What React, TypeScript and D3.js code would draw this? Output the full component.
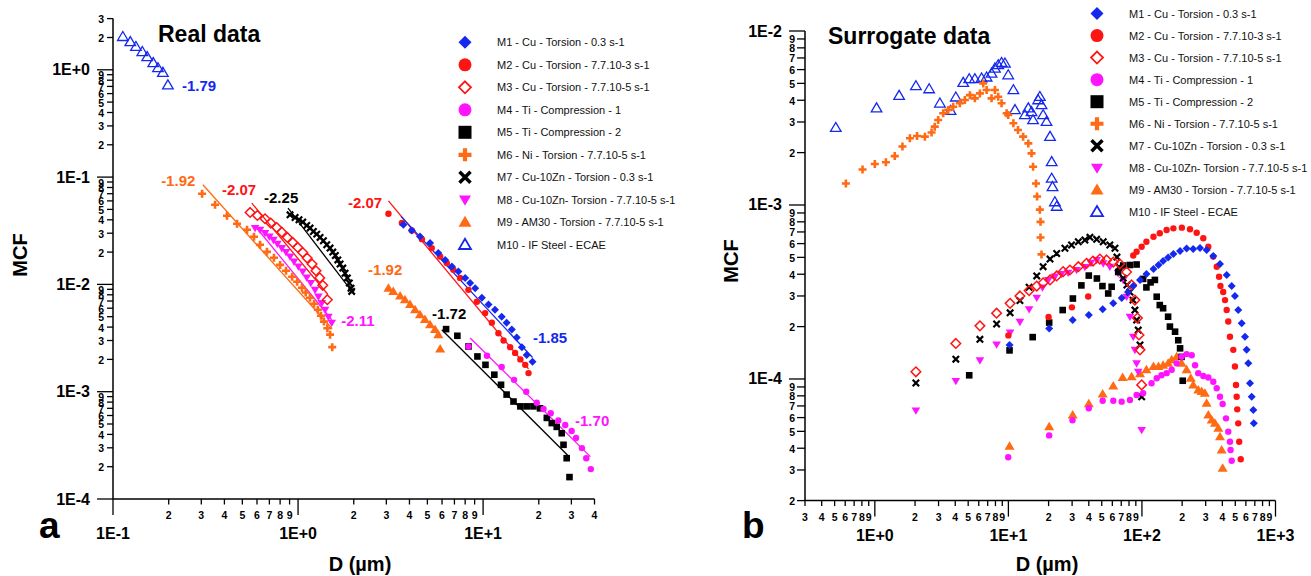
import React from 'react';
import * as d3 from 'd3';

type Pt = [number, number];

const BLUE = '#1428ee';
const RED = '#ff1414';
const MAGENTA = '#ff14ff';
const ORANGE = '#ff6a14';
const BLACK = '#000000';
const FONT = 'Arial, "Liberation Sans", Helvetica, sans-serif';

const seriesNames = [
  'M1 - Cu - Torsion - 0.3 s-1',
  'M2 - Cu - Torsion - 7.7.10-3 s-1',
  'M3 - Cu - Torsion - 7.7.10-5 s-1',
  'M4 - Ti - Compression - 1',
  'M5 - Ti - Compression - 2',
  'M6 - Ni - Torsion - 7.7.10-5 s-1',
  'M7 - Cu-10Zn - Torsion - 0.3 s-1',
  'M8 - Cu-10Zn- Torsion - 7.7.10-5 s-1',
  'M9 - AM30 - Torsion - 7.7.10-5 s-1',
  'M10 - IF Steel - ECAE',
];
const seriesColors = [BLUE, RED, RED, MAGENTA, BLACK, ORANGE, BLACK, MAGENTA, ORANGE, BLUE];
const seriesShapes = ['diamond', 'circle', 'diamondOpen', 'circle', 'square', 'plus', 'cross', 'triDown', 'triUp', 'triUpOpen'];

// ---------- Real data (panel a) ----------
const realM1: Pt[] = [[3.71,0.0359],[4.12,0.0318],[4.56,0.0279],[5.17,0.0243],[5.73,0.0196],[6.24,0.0169],[6.78,0.0147],[7.35,0.0132],[8.0,0.0115],[8.51,0.0103],[9.06,0.0092],[9.85,0.0075],[10.7,0.0065],[11.6,0.0058],[12.6,0.005],[13.4,0.0044],[14.3,0.0038],[15.2,0.0032],[16.2,0.0026],[17.2,0.0022],[18.5,0.0019]];
const realM2: Pt[] = [[3.08,0.0455],[3.64,0.0373],[4.12,0.0318],[4.67,0.0264],[5.28,0.0218],[5.86,0.0182],[6.37,0.0158],[6.91,0.0137],[7.51,0.0115],[8.33,0.0089],[9.25,0.0069],[10.26,0.0054],[11.15,0.0044],[12.1,0.0035],[12.9,0.003],[14.0,0.0026],[14.9,0.0023],[15.9,0.002],[16.9,0.00178],[17.6,0.00149]];
const realM3: Pt[] = [[0.551,0.0468],[0.603,0.0439],[0.663,0.0409],[0.712,0.0373],[0.767,0.0339],[0.817,0.0307],[0.875,0.0274],[0.936,0.0246],[0.996,0.0221],[1.06,0.0198],[1.12,0.0176],[1.19,0.0155],[1.25,0.0134],[1.31,0.0115],[1.36,0.0098],[1.44,0.0072]];
const realM4: Pt[] = [[8.34,0.00264],[10.5,0.00216],[12.6,0.0017],[14.7,0.00129],[17.1,0.001],[19.5,0.00079],[21.2,0.00069],[23.2,0.00063],[25.5,0.00054],[27.8,0.00049],[30.1,0.00043],[31.8,0.00037],[34.2,0.000298],[36.1,0.00024],[38.2,0.00019]];
const realM5: Pt[] = [[6.31,0.00383],[7.26,0.00332],[8.34,0.00264],[9.32,0.00213],[10.3,0.00178],[11.5,0.00144],[12.5,0.00116],[13.4,0.00094],[14.6,0.00081],[15.9,0.00073],[17.2,0.00073],[18.7,0.00073],[20.3,0.0007],[22.1,0.00057],[23.5,0.00051],[25.0,0.00047],[26.6,0.00041],[27.2,0.00032],[28.3,0.00024],[29.3,0.00016]];
const realM6: Pt[] = [[0.303,0.0699],[0.356,0.0552],[0.413,0.0436],[0.468,0.0367],[0.53,0.0323],[0.578,0.0278],[0.623,0.0234],[0.679,0.0201],[0.741,0.0177],[0.8,0.0152],[0.861,0.0134],[0.929,0.0118],[0.989,0.0106],[1.05,0.0093],[1.1,0.0084],[1.16,0.0075],[1.22,0.0066],[1.28,0.0058],[1.33,0.0051],[1.38,0.0045],[1.44,0.0039],[1.49,0.0034],[1.53,0.0026]];
const realM7: Pt[] = [[0.905,0.0445],[0.964,0.042],[1.012,0.04],[1.06,0.0381],[1.114,0.0354],[1.161,0.0335],[1.21,0.0311],[1.262,0.0294],[1.315,0.0274],[1.371,0.0255],[1.429,0.0234],[1.489,0.0218],[1.541,0.02],[1.591,0.0186],[1.64,0.0169],[1.687,0.0155],[1.745,0.0142],[1.795,0.0127],[1.847,0.0115],[1.893,0.0103],[1.933,0.0092],[1.95,0.0086]];
const realM8: Pt[] = [[0.586,0.0335],[0.623,0.0323],[0.663,0.0301],[0.7,0.0279],[0.736,0.026],[0.773,0.0239],[0.817,0.0218],[0.861,0.02],[0.905,0.0182],[0.951,0.0163],[1.004,0.0147],[1.06,0.0132],[1.114,0.0116],[1.172,0.0103],[1.236,0.0089],[1.288,0.0077],[1.343,0.0067],[1.4,0.0058],[1.459,0.005],[1.521,0.0044]];
const realM9: Pt[] = [[3.08,0.0092],[3.27,0.0086],[3.56,0.0078],[3.78,0.0072],[4.03,0.0065],[4.29,0.0058],[4.56,0.0052],[4.85,0.0047],[5.17,0.0042],[5.5,0.0038],[5.73,0.0034],[5.86,0.0025]];
const realM10: Pt[] = [[0.113,2.03],[0.124,1.82],[0.133,1.64],[0.144,1.47],[0.153,1.32],[0.165,1.16],[0.175,1.04],[0.186,0.94],[0.198,0.72]];

// power-law fits: series index, start x, start y, end x, exponent
const realFitSeries = [5, 2, 6, 7, 1, 0, 4, 3];
const realFitX0 = [0.306, 0.562, 0.883, 0.586, 3.08, 3.6, 5.98, 8.51];
const realFitY0 = [0.0848, 0.0573, 0.0514, 0.035, 0.0601, 0.043, 0.00378, 0.00316];
const realFitX1 = [1.53, 1.45, 1.95, 1.52, 17.6, 18.5, 29.0, 38.0];
const realFitSlope = [-1.92, -2.07, -2.25, -2.11, -2.07, -1.85, -1.72, -1.7];

const realLabelText = ['-1.79', '-1.92', '-2.07', '-2.25', '-2.11', '-2.07', '-1.85', '-1.92', '-1.72', '-1.70'];
const realLabelSeries = [9, 5, 2, 6, 7, 1, 0, 8, 4, 3];
const realLabelX = [0.236, 0.182, 0.388, 0.655, 1.71, 1.86, 18.6, 2.39, 5.3, 31.4];
const realLabelY = [0.72, 0.0924, 0.0762, 0.0641, 0.00458, 0.0576, 0.00318, 0.0137, 0.00532, 0.000535];

// ---------- Surrogate data (panel b) ----------
const surrM1: Pt[] = [[10.2,0.000157],[20.2,0.000195],[30.3,0.000218],[40.0,0.000233],[50.8,0.000252],[61.0,0.000272],[70.5,0.000292],[78.6,0.000316],[86.1,0.000342],[96.7,0.000371],[108,0.000401],[122,0.000428],[133,0.000452],[144,0.000476],[157,0.000499],[172,0.000523],[193,0.000544],[216,0.000562],[242,0.000558],[272,0.000566],[305,0.000551],[342,0.000509],[384,0.000458],[431,0.000396],[470,0.000342],[497,0.0003],[526,0.000249],[558,0.000209],[591,0.000175],[608,0.000147],[626,0.000123],[644,0.0000945],[663,0.0000791],[682,0.0000663],[688,0.0000556]];
const surrM2: Pt[] = [[10.0,0.000178],[20.0,0.000227],[29.9,0.000258],[39.6,0.000298],[86.1,0.000513],[91.2,0.000539],[99.5,0.000576],[108,0.000615],[122,0.000657],[136,0.000688],[153,0.000718],[172,0.000734],[199,0.000741],[229,0.000725],[257,0.000693],[288,0.000644],[314,0.000576],[342,0.000505],[363,0.000442],[378,0.000387],[387,0.000342],[406,0.000316],[419,0.000284],[431,0.000249],[443,0.000214],[456,0.000175],[483,0.000147],[497,0.000118],[506,0.0000924],[512,0.0000791],[517,0.0000669],[526,0.0000556],[535,0.0000436],[549,0.0000346]];
const surrM3: Pt[] = [[2.03,0.00011],[4.04,0.00016],[6.12,0.000202],[8.16,0.000239],[10.3,0.000272],[12.2,0.0003],[14.3,0.000322],[16.3,0.000342],[18.2,0.000357],[20.5,0.000371],[23.0,0.000391],[25.7,0.000414],[28.9,0.000423],[33.4,0.000442],[38.5,0.000462],[43.0,0.000476],[48.4,0.000489],[54.4,0.000483],[61.0,0.00047],[68.4,0.000458],[76.7,0.000412],[83.7,0.000347],[88.6,0.000284],[92.5,0.000224],[95.0,0.000179],[96.7,0.000147],[99.5,0.0000925]];
const surrM4: Pt[] = [[9.97,0.0000355],[20.2,0.0000474],[30.2,0.0000579],[40.0,0.0000679],[50.8,0.000075],[61.0,0.000075],[70.5,0.0000741],[81.3,0.0000757],[91.2,0.0000809],[102,0.0000828],[118,0.0000945],[129,0.000101],[140,0.000105],[153,0.000108],[167,0.000113],[182,0.000123],[198,0.000134],[216,0.000139],[236,0.000137],[250,0.00012],[264,0.000108],[288,0.000104],[314,0.000102],[342,0.0000965],[363,0.0000885],[384,0.0000791],[402,0.0000718],[426,0.0000594],[443,0.0000498],[456,0.0000436],[461,0.0000391],[470,0.0000339]];
const surrM5: Pt[] = [[5.09,0.000105],[10.2,0.000146],[15.2,0.000174],[20.2,0.000211],[25.5,0.000249],[30.4,0.00029],[35.2,0.000345],[40.0,0.000393],[46.0,0.000378],[50.6,0.000342],[55.9,0.00031],[59.3,0.000339],[66.4,0.000412],[72.4,0.000449],[81.3,0.000452],[91.2,0.000455],[102,0.000376],[108,0.000336],[116,0.000359],[125,0.000371],[129,0.000297],[136,0.000266],[144,0.000255],[157,0.000228],[162,0.0002],[177,0.000187],[187,0.000167],[193,0.00015],[198,0.000134],[202,0.0000977]];
const surrM6: Pt[] = [[0.607,0.00133],[0.809,0.0016],[1.0,0.00172],[1.21,0.00176],[1.41,0.00191],[1.61,0.00217],[1.83,0.00242],[2.07,0.00249],[2.37,0.00247],[2.66,0.00261],[2.81,0.00282],[2.98,0.00308],[3.25,0.00337],[3.54,0.00352],[3.86,0.00367],[4.33,0.00384],[4.72,0.00401],[5.15,0.00428],[5.61,0.0041],[6.12,0.00438],[6.48,0.005],[6.87,0.00458],[7.48,0.0041],[7.93,0.00458],[8.39,0.00419],[8.89,0.00384],[9.7,0.00337],[9.97,0.00329],[10.9,0.00295],[11.8,0.0027],[12.9,0.00247],[14.1,0.00226],[14.9,0.00198],[15.3,0.00166],[16.1,0.00133],[16.4,0.00112],[17.2,0.00094],[17.4,0.0008],[17.4,0.00065],[17.7,0.00052]];
const surrM7: Pt[] = [[2.03,0.0000948],[4.04,0.00013],[6.12,0.000169],[8.16,0.000207],[10.3,0.00024],[12.2,0.000282],[14.3,0.000337],[16.3,0.000391],[18.2,0.000442],[20.5,0.000489],[23.0,0.000526],[26.5,0.000564],[29.7,0.000589],[33.4,0.000615],[37.4,0.000629],[40.8,0.000652],[45.8,0.000635],[51.3,0.000615],[57.5,0.000589],[62.8,0.000564],[65.0,0.000502],[67.3,0.00044],[72.4,0.00038],[77.2,0.000347],[81.3,0.000316],[85.7,0.000284],[88.6,0.000249],[91.2,0.000218],[93.8,0.000191],[96.7,0.000157],[99.5,0.0000789]];
const surrM8: Pt[] = [[2.03,0.0000659],[4.04,0.0000975],[6.12,0.000128],[8.16,0.000158],[10.3,0.000185],[12.2,0.000213],[14.3,0.000252],[16.3,0.000293],[18.0,0.000336],[19.9,0.000371],[22.3,0.000388],[25.0,0.000401],[28.0,0.000408],[32.4,0.000423],[37.4,0.00044],[41.5,0.000465],[45.8,0.000483],[51.3,0.000462],[57.5,0.000442],[66.4,0.000406],[72.4,0.000371],[76.8,0.000297],[81.3,0.000228],[86.1,0.000175],[88.6,0.000147],[91.2,0.000123],[93.8,0.00011],[99.5,0.0000509]];
const surrM9: Pt[] = [[10.2,0.000041],[20.2,0.0000532],[30.3,0.0000621],[40.0,0.0000721],[50.8,0.000082],[61.0,0.0000912],[71.7,0.000102],[83.7,0.000103],[96.7,0.000107],[108,0.000113],[122,0.000118],[133,0.000118],[144,0.00012],[157,0.000123],[167,0.000129],[182,0.000134],[198,0.000123],[216,0.000113],[232,0.000101],[242,0.0000924],[264,0.0000865],[280,0.0000846],[296,0.0000828],[305,0.0000725],[314,0.0000621],[333,0.0000581],[352,0.0000556],[373,0.0000521],[384,0.0000466],[395,0.0000391],[402,0.0000307]];
const surrM10: Pt[] = [[0.51,0.00278],[1.03,0.0036],[1.52,0.00425],[2.03,0.00483],[2.55,0.00464],[3.07,0.00384],[3.69,0.00348],[4.04,0.00416],[4.59,0.00505],[5.09,0.0053],[5.61,0.0053],[6.3,0.00535],[6.87,0.00542],[7.48,0.00571],[7.93,0.0061],[8.39,0.00638],[8.89,0.00657],[9.42,0.00652],[9.97,0.00558],[10.9,0.00458],[11.2,0.00352],[13.3,0.00329],[14.1,0.0036],[14.9,0.00343],[15.3,0.00308],[16.7,0.00401],[17.2,0.00419],[17.7,0.00376],[18.2,0.00329],[19.3,0.00301],[20.5,0.00247],[21.1,0.00177],[21.1,0.00142],[21.4,0.00127],[22.3,0.00104],[23.0,0.00098]];

const realData: Pt[][] = [realM1, realM2, realM3, realM4, realM5, realM6, realM7, realM8, realM9, realM10];
const surrData: Pt[][] = [surrM1, surrM2, surrM3, surrM4, surrM5, surrM6, surrM7, surrM8, surrM9, surrM10];

// axis domains
const realXDomain: [number, number] = [0.1, 40];
const realYDomain: [number, number] = [1e-4, 3];
const surrXDomain: [number, number] = [0.3, 1000];
const surrYDomain: [number, number] = [2e-5, 1e-2];

const SZ_DATA: Record<string, number> = { diamond: 4, circle: 3.2, diamondOpen: 4.8, square: 3.3, plus: 4, cross: 3.2, triDown: 4.3, triUp: 5, triUpOpen: 5.3 };
const SZ_LEG: Record<string, number> = { diamond: 6.5, circle: 6.5, diamondOpen: 6, square: 6.5, plus: 6.5, cross: 5.5, triDown: 6, triUp: 6.5, triUpOpen: 6 };
const SW_DATA: Record<string, number> = { diamondOpen: 1.5, plus: 2.6, cross: 2.2, triUpOpen: 1.3 };
const SW_LEG: Record<string, number> = { diamondOpen: 1.8, plus: 4.2, cross: 3.5, triUpOpen: 1.8 };

function marker(shape: string, cx: number, cy: number, color: string, legend: boolean, key: string | number) {
  const s = (legend ? SZ_LEG : SZ_DATA)[shape];
  const sw = (legend ? SW_LEG : SW_DATA)[shape] || 0;
  switch (shape) {
    case 'diamond':
      return <path key={key} d={`M${cx},${cy - s}L${cx + s},${cy}L${cx},${cy + s}L${cx - s},${cy}Z`} fill={color} />;
    case 'diamondOpen':
      return <path key={key} d={`M${cx},${cy - s}L${cx + s},${cy}L${cx},${cy + s}L${cx - s},${cy}Z`} fill={legend ? '#fff' : 'none'} stroke={color} strokeWidth={sw} />;
    case 'circle':
      return <circle key={key} cx={cx} cy={cy} r={s} fill={color} />;
    case 'square':
      return <rect key={key} x={cx - s} y={cy - s} width={2 * s} height={2 * s} fill={color} />;
    case 'plus':
      return <path key={key} d={`M${cx - s},${cy}H${cx + s}M${cx},${cy - s}V${cy + s}`} stroke={color} strokeWidth={sw} fill="none" />;
    case 'cross':
      return <path key={key} d={`M${cx - s},${cy - s}L${cx + s},${cy + s}M${cx - s},${cy + s}L${cx + s},${cy - s}`} stroke={color} strokeWidth={sw} fill="none" />;
    case 'triDown':
      return <path key={key} d={`M${cx - s},${cy - s * 0.7}L${cx + s},${cy - s * 0.7}L${cx},${cy + s * 1.0}Z`} fill={color} />;
    case 'triUp':
      return <path key={key} d={`M${cx - s},${cy + s * 0.7}L${cx + s},${cy + s * 0.7}L${cx},${cy - s * 1.0}Z`} fill={color} />;
    case 'triUpOpen':
      return <path key={key} d={`M${cx - s},${cy + s * 0.7}L${cx + s},${cy + s * 0.7}L${cx},${cy - s * 1.0}Z`} fill={legend ? '#fff' : 'none'} stroke={color} strokeWidth={sw} strokeLinejoin="miter" />;
    default:
      return null;
  }
}

function logTicks(lo: number, hi: number) {
  const out: { v: number; m: number; e: number }[] = [];
  const e0 = Math.floor(Math.log10(lo) + 1e-9);
  const e1 = Math.floor(Math.log10(hi) + 1e-9);
  for (let e = e0; e <= e1; e++) {
    for (let m = 1; m <= 9; m++) {
      const v = m * Math.pow(10, e);
      if (v >= lo * 0.999 && v <= hi * 1.001) out.push({ v, m, e });
    }
  }
  return out;
}
const majorLabel = (e: number) => `1E${e < 0 ? '-' : '+'}${Math.abs(e)}`;

type PanelProps = {
  xDomain: [number, number];
  yDomain: [number, number];
  xRange: [number, number];
  yRange: [number, number];
  yMinorLen: number;
  yMinorGap: number;
  data: Pt[][];
  legendX: number;
  legendY: number;
  legendStep: number;
  title: string;
  titleX: number;
  titleY: number;
  letter: string;
  letterX: number;
  mcfX: number;
  mcfY: number;
  dX: number;
  fits?: { s: number; x0: number; y0: number; x1: number; k: number }[];
  labels?: { t: string; s: number; x: number; y: number }[];
};

function Panel(p: PanelProps) {
  const xs = d3.scaleLog().domain(p.xDomain).range(p.xRange);
  const ys = d3.scaleLog().domain(p.yDomain).range(p.yRange);
  const ax = p.xRange[0];
  const ay = p.yRange[0];
  const xt = logTicks(p.xDomain[0], p.xDomain[1]);
  const yt = logTicks(p.yDomain[0], p.yDomain[1]);
  const line = d3.line<Pt>().x((d) => xs(d[0])).y((d) => ys(d[1]));
  const order = [9, 8, 7, 6, 5, 4, 3, 2, 1, 0];
  return (
    <g fontFamily={FONT}>
      {/* axes */}
      <line x1={ax} x2={ax} y1={p.yRange[1]} y2={ay} stroke="#000" strokeWidth={1.5} />
      <line x1={ax} x2={p.xRange[1]} y1={ay} y2={ay} stroke="#000" strokeWidth={1.5} />
      {yt.map((t, i) => {
        const y = ys(t.v);
        const major = t.m === 1;
        return (
          <g key={'yt' + i}>
            <line x1={ax - (major ? 16 : p.yMinorLen)} x2={ax} y1={y} y2={y} stroke="#000" strokeWidth={1.3} />
            {major ? (
              <text x={ax - 23} y={y} textAnchor="end" dominantBaseline="central" fontSize={16} fontWeight="bold">{majorLabel(t.e)}</text>
            ) : (
              <text x={ax - p.yMinorGap} y={y + 0.5} textAnchor="end" dominantBaseline="central" fontSize={10.5} fontWeight="bold">{t.m}</text>
            )}
          </g>
        );
      })}
      {xt.map((t, i) => {
        const x = xs(t.v);
        const major = t.m === 1;
        return (
          <g key={'xt' + i}>
            <line x1={x} x2={x} y1={ay} y2={ay + (major ? 16 : 5.5)} stroke="#000" strokeWidth={1.3} />
            {major ? (
              <text x={x} y={ay + 40} textAnchor="middle" fontSize={16} fontWeight="bold">{majorLabel(t.e)}</text>
            ) : (
              <text x={x} y={ay + 20} textAnchor="middle" fontSize={10.5} fontWeight="bold">{t.m}</text>
            )}
          </g>
        );
      })}
      {/* fit lines */}
      {(p.fits || []).map((f, i) => (
        <path key={'fit' + i} d={line([[f.x0, f.y0], [f.x1, f.y0 * Math.pow(f.x1 / f.x0, f.k)]]) || ''} stroke={seriesColors[f.s]} strokeWidth={1.3} fill="none" />
      ))}
      {/* data */}
      {order.map((si) => (
        <g key={'s' + si}>
          {p.data[si].map((d, j) => marker(seriesShapes[si], xs(d[0]), ys(d[1]), seriesColors[si], false, j))}
        </g>
      ))}
      {/* fit labels */}
      {(p.labels || []).map((l, i) => (
        <text key={'lab' + i} x={xs(l.x)} y={ys(l.y)} dominantBaseline="central" fontSize={15} fontWeight="bold" fill={seriesColors[l.s]}>{l.t}</text>
      ))}
      {/* legend */}
      {seriesNames.map((n, i) => (
        <g key={'lg' + i}>
          {marker(seriesShapes[i], p.legendX, p.legendY + i * p.legendStep, seriesColors[i], true, 'm')}
          <text x={p.legendX + 32} y={p.legendY + i * p.legendStep} dominantBaseline="central" fontSize={11} fill="#111">{n}</text>
        </g>
      ))}
      {/* titles */}
      <text x={p.titleX} y={p.titleY} fontSize={23} fontWeight="bold">{p.title}</text>
      <text x={p.letterX} y={538} fontSize={37} fontWeight="bold">{p.letter}</text>
      <text transform={`translate(${p.mcfX},${p.mcfY}) rotate(-90)`} textAnchor="middle" dominantBaseline="central" fontSize={20} fontWeight="bold">MCF</text>
      <text x={p.dX} y={571} textAnchor="middle" fontSize={20} fontWeight="bold">D (µm)</text>
    </g>
  );
}

export default function App() {
  const realFits = realFitSeries.map((s, i) => ({ s, x0: realFitX0[i], y0: realFitY0[i], x1: realFitX1[i], k: realFitSlope[i] }));
  const realLabels = realLabelText.map((t, i) => ({ t, s: realLabelSeries[i], x: realLabelX[i], y: realLabelY[i] }));
  return (
    <svg width={1311} height={576} style={{ position: 'absolute', left: 0, top: 0, background: '#fff' }}>
      <rect width={1311} height={576} fill="#fff" />
      <Panel
        xDomain={realXDomain}
        yDomain={realYDomain}
        xRange={[113, 594.5]}
        yRange={[499, 18.6]}
        yMinorLen={6}
        yMinorGap={9}
        data={realData}
        fits={realFits}
        labels={realLabels}
        legendX={465}
        legendY={42.3}
        legendStep={22.5}
        title="Real data"
        titleX={158}
        titleY={42}
        letter="a"
        letterX={39}
        mcfX={20}
        mcfY={255}
        dX={360}
      />
      <Panel
        xDomain={surrXDomain}
        yDomain={surrYDomain}
        xRange={[805, 1275.5]}
        yRange={[500.6, 31]}
        yMinorLen={8}
        yMinorGap={10}
        data={surrData}
        legendX={1097}
        legendY={13.5}
        legendStep={22.05}
        title="Surrogate data"
        titleX={828}
        titleY={44}
        letter="b"
        letterX={742}
        mcfX={731}
        mcfY={261}
        dX={1047}
      />
    </svg>
  );
}
